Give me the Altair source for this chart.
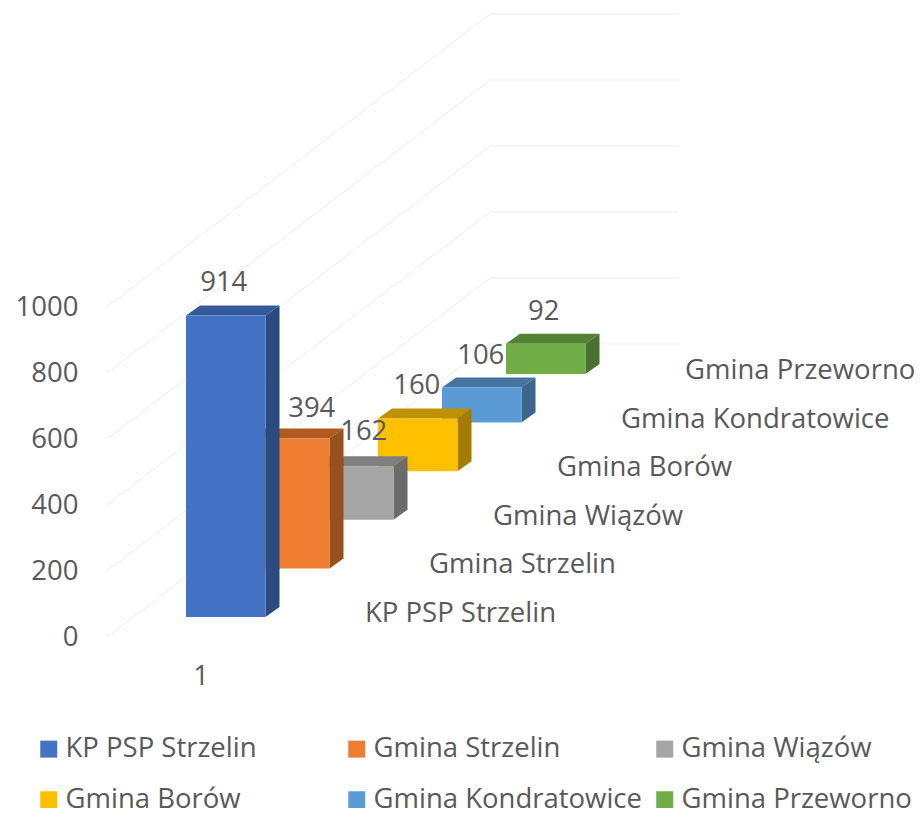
import altair as alt
import pandas as pd

series = ["KP PSP Strzelin", "Gmina Strzelin", "Gmina Wiązów", "Gmina Borów", "Gmina Kondratowice", "Gmina Przeworno"]
values = [914, 394, 162, 160, 106, 92]
front = ["#4472C4", "#ED7D31", "#A5A5A5", "#FFC000", "#5B9BD5", "#70AD47"]
side = ["#2A4A80", "#97501E", "#6B6B6B", "#A67C00", "#3B658B", "#49702E"]
top = ["#345A9C", "#B05A22", "#7F7F7F", "#BF9000", "#44749F", "#548235"]
ticks = [0, 200, 400, 600, 800, 1000]
category = "1"

# oblique projection of the 3D chart (x in page pixels, y in value units)
PX = 0.33
ORIGIN = 637
def vy(page_y):
    return (ORIGIN - page_y) / PX
BAR_W = 79.5
STEP_X = 64
STEP_Y = 48.6 / PX
BASE0 = vy(617)
DEPTH_X = 14
DEPTH_Y = 10 / PX
X0 = 186

xs = alt.Scale(domain=[88, 914], nice=False, zero=False)
ys = alt.Scale(domain=[vy(808), vy(8)], nice=False, zero=False)
FONT = "Open Sans"
GREY = "#595959"
FS = 27.5

y_axis = alt.Axis(
    values=ticks, domain=False, ticks=False, grid=False, labelFont=FONT, format="d",
    labelFontSize=FS, labelColor=GREY, labelPadding=10, labelOverlap=False, title=None)
X_ = alt.X("x:Q", scale=xs, axis=None)
Y_ = alt.Y("y:Q", scale=ys, axis=y_axis, title=None)

layers = []

# wall and floor grid
grid_rows = []
for t in ticks:
    for gx, off in [(107, 0), (490, vy(344)), (678, vy(344))]:
        grid_rows.append({"x": gx, "y": t + off, "t": t})
grid = alt.Chart(pd.DataFrame(grid_rows)).mark_line(color="#EDEDED", strokeWidth=1).encode(
    x=X_, y=Y_, detail="t:N", order="x:Q",
)
layers.append(grid)

legend = alt.Legend(
    title=None, orient="none", legendX=-53, legendY=727, columns=3, gridAlign="all", direction="horizontal",
    symbolType="square", symbolSize=289, symbolStrokeWidth=0, labelFont=FONT, labelFontSize=FS,
    labelColor=GREY, rowPadding=22, columnPadding=9, labelOffset=3, labelLimit=400, padding=0,
)
color_scale = alt.Scale(domain=series, range=front)

for i in reversed(range(len(series))):
    xl = X0 + STEP_X * i
    xr = xl + BAR_W
    base = BASE0 + STEP_Y * i
    h = base + values[i]
    side_df = pd.DataFrame([
        {"x": xr, "y": h, "y2": base},
        {"x": xr + DEPTH_X, "y": h + DEPTH_Y, "y2": base + DEPTH_Y},
    ])
    top_df = pd.DataFrame([
        {"x": xl, "y": h, "y2": h},
        {"x": xl + DEPTH_X, "y": h + DEPTH_Y, "y2": h},
        {"x": xr, "y": h + DEPTH_Y, "y2": h},
        {"x": xr + DEPTH_X, "y": h + DEPTH_Y, "y2": h + DEPTH_Y},
    ])
    front_df = pd.DataFrame([{"x": xl, "x2": xr, "y": h, "y2": base, "series": series[i]}])
    layers.append(alt.Chart(top_df).mark_area(color=top[i]).encode(x=X_, y=Y_, y2="y2:Q"))
    layers.append(alt.Chart(side_df).mark_area(color=side[i]).encode(x=X_, y=Y_, y2="y2:Q"))
    layers.append(alt.Chart(front_df).mark_rect().encode(
        x=X_, x2="x2:Q", y=Y_, y2="y2:Q",
        color=alt.Color("series:N", scale=color_scale, legend=legend),
    ))

# data labels
label_dx = [-2, 22, 10, -1, -1, -2]
label_dy = [-34, -31, -36, -34, -34, -34]
for i in range(len(series)):
    xl = X0 + STEP_X * i
    base = BASE0 + STEP_Y * i
    df = pd.DataFrame([{"x": xl + BAR_W / 2, "y": base + values[i], "t": str(values[i])}])
    layers.append(alt.Chart(df).mark_text(
        font=FONT, fontSize=FS, color=GREY, align="center", baseline="middle",
        dx=label_dx[i], dy=label_dy[i] + 2).encode(x=X_, y=Y_, text="t:N"))

# depth-axis series labels
cat_df = pd.DataFrame({
    "x": [365 + STEP_X * i for i in range(len(series))],
    "y": [vy(614) + STEP_Y * i for i in range(len(series))],
    "t": series,
})
layers.append(alt.Chart(cat_df).mark_text(
    font=FONT, fontSize=FS, color=GREY, align="left", baseline="middle").encode(x=X_, y=Y_, text="t:N"))

# category-axis label
layers.append(alt.Chart(pd.DataFrame({"x": [201], "y": [vy(677)], "t": [category]})).mark_text(
    font=FONT, fontSize=FS, color=GREY, align="center", baseline="middle").encode(x=X_, y=Y_, text="t:N"))

chart = alt.layer(*layers).properties(
    width=826, height=800,
    padding={"left": 80, "top": 0, "right": 0, "bottom": 0},
    autosize=alt.AutoSizeParams(type="none"),
).configure_view(strokeWidth=0)

chart.save("out.html", embed_options={"renderer": "svg", "actions": False})
